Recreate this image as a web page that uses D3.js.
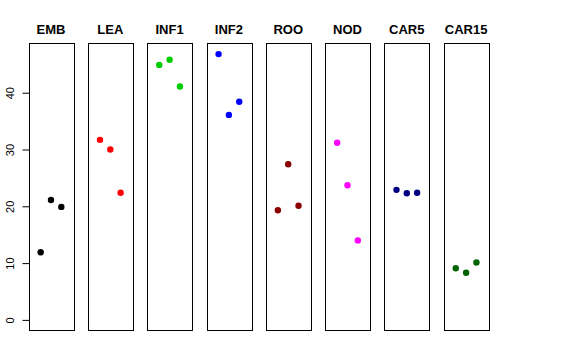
<!DOCTYPE html>
<html>
<head>
<meta charset="utf-8">
<script src="https://cdn.jsdelivr.net/npm/d3@7"></script>
<style>
body { margin: 0; background: #fff; }
</style>
</head>
<body>
<div id="chart"></div>
<script>
var groups = ["EMB", "LEA", "INF1", "INF2", "ROO", "NOD", "CAR5", "CAR15"];
var colors = ["#000000", "#FF0000", "#00CD00", "#0000FF", "#8B0000", "#FF00FF", "#000080", "#006400"];
var values = [
	[11.9, 21.1, 19.9],
	[31.7, 30.0, 22.4],
	[44.9, 45.8, 41.1],
	[46.8, 36.1, 38.4],
	[19.3, 27.4, 20.1],
	[31.2, 23.7, 14.0],
	[22.9, 22.3, 22.4],
	[9.1, 8.3, 10.1]
];
var yTicks = [0, 10, 20, 30, 40];

var w = 576,
	h = 360;
var svg = d3.select("#chart").append("svg").attr("width", w).attr("height", h);

var plotTop = 43.5,
	plotBottom = 330.5,
	left0 = 28.7,
	pitch = 59.3,
	pw = 44.6;

var y = d3.scaleLinear().domain([-1.87, 48.67]).range([plotBottom, plotTop]);

groups.forEach(function(g, i) {
	var x0 = left0 + pitch * i;
	var x = d3.scaleLinear().domain([-0.16, 4.16]).range([x0, x0 + pw]);
	var panel = svg.append("g");

	panel.append("rect")
		.attr("x", Math.round(x0) + 0.5).attr("y", plotTop)
		.attr("width", Math.round(pw)).attr("height", plotBottom - plotTop)
		.attr("fill", "none").attr("stroke", "#000").attr("stroke-width", 1);

	panel.append("text")
		.attr("x", x0 + pw / 2).attr("y", 34)
		.attr("text-anchor", "middle")
		.attr("font-family", "Liberation Sans, Arial, sans-serif")
		.attr("font-weight", "bold").attr("font-size", 13)
		.text(g);

	panel.selectAll("circle").data(values[i]).enter().append("circle")
		.attr("cx", function(d, j) { return x(j + 1); })
		.attr("cy", function(d) { return y(d); })
		.attr("r", 3.2)
		.attr("fill", colors[i]);

	if (i === 0) {
		var axis = d3.axisLeft(y).tickValues(yTicks).tickSize(7).tickPadding(3);
		var ax = panel.append("g").attr("transform", "translate(" + (Math.round(x0) + 0.5) + ",0)").call(axis);
		ax.select(".domain").attr("d", "M0," + y(0) + "V" + y(40)).attr("stroke", "#000");
		ax.selectAll(".tick line").attr("stroke", "#000");
		ax.selectAll(".tick text")
			.attr("font-family", "Liberation Sans, Arial, sans-serif")
			.attr("font-size", 11).attr("fill", "#000")
			.attr("x", null).attr("dy", null)
			.attr("text-anchor", "middle")
			.attr("transform", "translate(-16,0) rotate(-90)");
	}
});
</script>
</body>
</html>
